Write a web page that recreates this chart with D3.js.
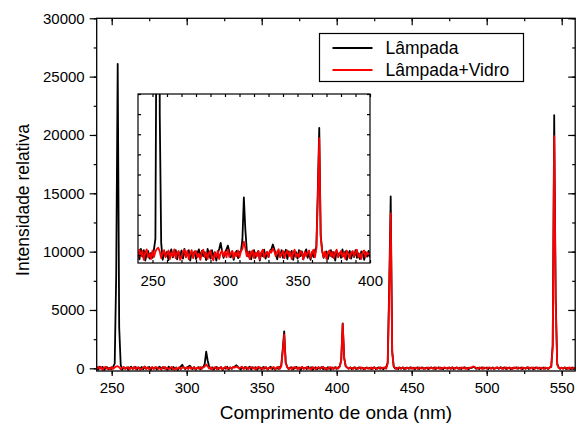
<!DOCTYPE html>
<html>
<head>
<meta charset="utf-8">
<script src="https://cdn.jsdelivr.net/npm/d3@7"></script>
<style>
  body { margin: 0; background: #fff; }
  svg { display: block; font-family: Arial, "Liberation Sans", sans-serif; }
  .axis path, .axis line { stroke: #000; stroke-width: 1.2; }
  .axis text { font-size: 15px; fill: #000; }
</style>
</head>
<body>
<svg id="chart" width="581" height="427"></svg>
<script>
// spectrum samples, 1 nm step from 240 to 560 nm
const wavelength = d3.range(240, 561, 1);

const lampada = [
  60, -110, 150, -40, 120, -140, 30, 100, -90, 50,          // 240
  -70, 140, 400, 8000, 26100, 3500, 300, -120, 90, -30,     // 250
  80, -130, 50, 140, -60, 20, 120, -110, 70, -40,           // 260
  110, -90, 150, -50, 40, 120, -140, 70, -20, 90,           // 270
  -100, 50, 140, -70, 100, -30, 70, -130, 150, 20,          // 280
  -90, 120, -50, 70, -140, 40, 150, 300, 90, -70,           // 290
  50, 140, 230, 80, -60, 90, -120, 30, 100, -80,            // 300
  70, 90, 380, 1430, 650, 120, -40, 90, -110, 50,           // 310
  120, -70, 40, 100, -140, 60, -30, 130, -90, 70,           // 320
  -50, 100, 140, 260, 150, 20, -110, 70, -40, 120,          // 330
  -70, 40, 130, -100, 90, -20, 100, -120, 50, 70,           // 340
  -90, 120, -30, 90, -110, 50, 140, -70, 40, -120,          // 350
  70, -50, 100, 200, 1600, 3160, 500, 110, -70, 50,         // 360
  90, -100, 40, 120, -50, 70, -140, 100, -20, 50,           // 370
  -70, 140, -30, 90, -120, 20, 100, -90, 70, -50,           // 380
  120, -70, 40, -100, 90, 50, -120, 70, -40, 100,           // 390
  -50, 90, 150, 700, 3850, 900, 170, 60, -30, 80,           // 400
  -60, 40, 90, -70, 30, 80, -40, 60, -80, 20,               // 410
  70, -30, 60, -70, 40, 90, -60, 30, 80, -40,               // 420
  60, -80, 40, 100, 500, 7000, 14730, 1500, 150, -30,       // 430
  40, -60, 70, -30, 80, -70, 30, 60, -40, 90,               // 440
  -30, 60, -80, 40, 70, -60, 30, 80, -40, 20,               // 450
  60, -70, 40, 80, -30, 70, -60, 30, 90, -40,               // 460
  40, -80, 60, 20, -40, 80, -30, 70, -60, 30,               // 470
  80, -40, 60, -70, 30, 90, -30, 40, -80, 60,               // 480
  30, 130, 80, -40, 60, -70, 40, 80, -30, 20,               // 490
  70, -60, 40, -30, 80, -70, 30, 60, -40, 90,               // 500
  -30, 40, 80, -60, 30, 70, -80, 40, -20, 60,               // 510
  80, -40, 30, 70, -70, 40, -30, 90, -60, 30,               // 520
  60, -80, 40, 80, -30, 60, -70, 30, 70, -40,               // 530
  40, -60, 80, 120, 2000, 21700, 6000, 400, 70, -40,        // 540
  60, -30, 80, -70, 40, 30, -60, 70, -40, 60,               // 550
  30                                                        // 560
];

const lampadaVidro = [
  -80, 130, -30, 100, -120, 60, 140, -60, 30, -100,         // 240
  110, -50, 80, 150, 180, 90, -80, 50, 120, -60,            // 250
  30, 110, -100, 60, -30, 140, -80, 50, 100, -120,          // 260
  -50, 80, 130, -60, 100, -110, 30, 120, -80, 60,           // 270
  100, -60, 30, -120, 80, 130, -50, 60, -100, 50,           // 280
  110, -80, -130, 60, -50, 100, -100, 50, 110, -30,         // 290
  80, -60, 130, -50, 30, 100, -80, 60, -30, 110,            // 300
  -60, 90, 150, 330, 170, -30, 80, -100, 50, 110,           // 310
  -80, 60, -30, 100, -110, 50, 130, -60, 30, 80,            // 320
  -50, 110, 60, 160, 90, -30, 80, 140, -60, 30,             // 330
  100, -80, 50, 110, -30, 80, -100, 60, 130, -50,           // 340
  30, -60, 100, 50, -110, 80, -30, 60, 110, -80,            // 350
  50, 130, -60, 150, 1400, 2900, 450, 90, -50, 80,          // 360
  -100, 60, 110, -30, 80, -80, 50, 130, -60, 30,            // 370
  100, -50, 60, -100, 110, 30, -80, 50, 100, -30,           // 380
  60, 130, -60, 30, -100, 80, 110, -50, 60, -20,            // 390
  70, -30, 150, 650, 3800, 850, 190, 80, -40, 60,           // 400
  40, -60, 80, 30, -70, 60, 90, -30, 40, -80,               // 410
  60, 30, -40, 80, -60, 70, 30, -70, 40, 90,                // 420
  -30, 60, 80, -40, 400, 6300, 13270, 1300, 160, 40,        // 430
  -60, 70, 30, -40, 80, 40, -70, 60, 30, -30,               // 440
  70, -40, 60, 30, -70, 80, 40, -30, 60, -60,               // 450
  30, 80, -40, 60, 20, -70, 80, 40, -30, 70,                // 460
  -60, 40, 80, -30, 60, 30, -70, 90, 40, -40,               // 470
  60, 30, -60, 80, 40, -30, 70, -70, 60, 30,                // 480
  90, 160, 110, 30, -40, 70, 40, -60, 80, 30,               // 490
  -40, 60, 80, -30, 40, -70, 60, 90, -30, 40,               // 500
  70, -60, 30, 80, -40, 60, 30, -70, 80, 40,                // 510
  -30, 70, 40, -60, 80, 30, -40, 60, 90, -30,               // 520
  40, 70, -60, 30, 80, -40, 60, 30, -70, 70,                // 530
  30, -40, 70, 100, 1800, 19900, 5500, 300, 50, -30,        // 540
  60, -40, 70, 30, -60, 80, 40, -30, 60, 30,                // 550
  40                                                        // 560
];

const xTicks = [250, 300, 350, 400, 450, 500, 550];
const yTicks = [0, 5000, 10000, 15000, 20000, 25000, 30000];
const insetXTicks = [250, 300, 350, 400];
const seriesNames = ["Lâmpada", "Lâmpada+Vidro"];
const seriesColors = ["#000000", "#ff0000"];

const svg = d3.select("#chart");

// main panel
const x = d3.scaleLinear().domain([240, 559]).range([96.7, 575.2]);
const y = d3.scaleLinear().domain([-230, 30000]).range([371, 18.3]);

// inset panel
const xi = d3.scaleLinear().domain([240, 400]).range([138, 370]);
const yi = d3.scaleLinear().domain([-200, 4000]).range([263, 94]);

const series = [lampada, lampadaVidro];

function drawPanel(g, xs, ys, id) {
    const [x0, x1] = xs.range();
    const [y0, y1] = ys.range();
    g.append("clipPath").attr("id", id)
        .append("rect")
        .attr("x", x0).attr("y", y1)
        .attr("width", x1 - x0).attr("height", y0 - y1);

    const line = d3.line()
        .x((d, i) => xs(wavelength[i]))
        .y(d => ys(d));

    g.append("g").attr("clip-path", `url(#${id})`)
        .selectAll("path")
        .data(series)
        .join("path")
        .attr("fill", "none")
        .attr("stroke", (d, i) => seriesColors[i])
        .attr("stroke-width", 1.8)
        .attr("stroke-linejoin", "round")
        .attr("d", line);
}

function minorAxis(axisFn, scale, values, size) {
    return axisFn(scale).tickValues(values).tickSize(size).tickSizeOuter(0).tickFormat("");
}

const xMinor = d3.range(250, 560, 25);
const yMinor = d3.range(0, 30001, 2500);
const fmt = d3.format("d");

// main axes
svg.append("g").attr("class", "axis").attr("transform", `translate(0,${y.range()[0]})`)
    .call(minorAxis(d3.axisBottom, x, xMinor, 3));
svg.append("g").attr("class", "axis").attr("transform", `translate(0,${y.range()[0]})`)
    .call(d3.axisBottom(x).tickValues(xTicks).tickFormat(fmt).tickSize(5).tickSizeOuter(0).tickPadding(6));

svg.append("g").attr("class", "axis").attr("transform", `translate(${x.range()[0]},0)`)
    .call(minorAxis(d3.axisLeft, y, yMinor, 3));
svg.append("g").attr("class", "axis").attr("transform", `translate(${x.range()[0]},0)`)
    .call(d3.axisLeft(y).tickValues(yTicks).tickFormat(fmt).tickSize(7).tickSizeOuter(0).tickPadding(5));

svg.append("g").attr("class", "axis").attr("transform", `translate(0,${y.range()[1]})`)
    .call(minorAxis(d3.axisTop, x, xMinor, -3));
svg.append("g").attr("class", "axis").attr("transform", `translate(0,${y.range()[1]})`)
    .call(minorAxis(d3.axisTop, x, xTicks, -7));
svg.append("g").attr("class", "axis").attr("transform", `translate(${x.range()[1]},0)`)
    .call(minorAxis(d3.axisRight, y, yMinor, -3));
svg.append("g").attr("class", "axis").attr("transform", `translate(${x.range()[1]},0)`)
    .call(minorAxis(d3.axisRight, y, yTicks, -7));

svg.selectAll(".axis .domain").remove();

drawPanel(svg.append("g"), x, y, "clipMain");

svg.append("rect")
    .attr("x", x.range()[0]).attr("y", y.range()[1])
    .attr("width", x.range()[1] - x.range()[0])
    .attr("height", y.range()[0] - y.range()[1])
    .attr("fill", "none").attr("stroke", "#000").attr("stroke-width", 1.3);

// axis titles
svg.append("text")
    .attr("x", (x.range()[0] + x.range()[1]) / 2)
    .attr("y", 419)
    .attr("text-anchor", "middle")
    .style("font-size", "19px")
    .text("Comprimento de onda (nm)");

svg.append("text")
    .attr("transform", "translate(29,200) rotate(-90)")
    .attr("text-anchor", "middle")
    .style("font-size", "17.5px")
    .text("Intensidade relativa");

// inset
const inset = svg.append("g");
inset.append("rect")
    .attr("x", xi.range()[0]).attr("y", yi.range()[1])
    .attr("width", xi.range()[1] - xi.range()[0])
    .attr("height", yi.range()[0] - yi.range()[1])
    .attr("fill", "#fff");

drawPanel(inset, xi, yi, "clipInset");

const xiMinor = d3.range(250, 401, 10);
const yiMinor = d3.range(0, 4001, 500);
inset.append("g").attr("class", "axis").attr("transform", `translate(0,${yi.range()[0]})`)
    .call(d3.axisBottom(xi).tickValues(insetXTicks).tickFormat(fmt).tickSize(0).tickSizeOuter(0).tickPadding(12));
inset.append("g").attr("class", "axis").attr("transform", `translate(0,${yi.range()[0]})`)
    .call(minorAxis(d3.axisTop, xi, xiMinor, 3));
inset.append("g").attr("class", "axis").attr("transform", `translate(0,${yi.range()[1]})`)
    .call(minorAxis(d3.axisTop, xi, xiMinor, -3));
inset.append("g").attr("class", "axis").attr("transform", `translate(${xi.range()[0]},0)`)
    .call(minorAxis(d3.axisLeft, yi, yiMinor, -3));
inset.append("g").attr("class", "axis").attr("transform", `translate(${xi.range()[1]},0)`)
    .call(minorAxis(d3.axisRight, yi, yiMinor, -3));
inset.selectAll(".axis .domain").remove();

inset.append("rect")
    .attr("x", xi.range()[0]).attr("y", yi.range()[1])
    .attr("width", xi.range()[1] - xi.range()[0])
    .attr("height", yi.range()[0] - yi.range()[1])
    .attr("fill", "none").attr("stroke", "#000").attr("stroke-width", 1.2);

// legend
const legend = svg.append("g").attr("transform", "translate(319.5,33.5)");
legend.append("rect")
    .attr("width", 204).attr("height", 48)
    .attr("fill", "#fff").attr("stroke", "#000").attr("stroke-width", 1.2);
const rows = legend.selectAll("g.row")
    .data(seriesNames)
    .join("g")
    .attr("class", "row")
    .attr("transform", (d, i) => `translate(0,${14.5 + i * 22})`);
rows.append("line")
    .attr("x1", 13).attr("x2", 53)
    .attr("stroke", (d, i) => seriesColors[i])
    .attr("stroke-width", 2);
rows.append("text")
    .attr("x", 66).attr("dy", "0.35em")
    .style("font-size", "17.5px")
    .text(d => d);
</script>
</body>
</html>
